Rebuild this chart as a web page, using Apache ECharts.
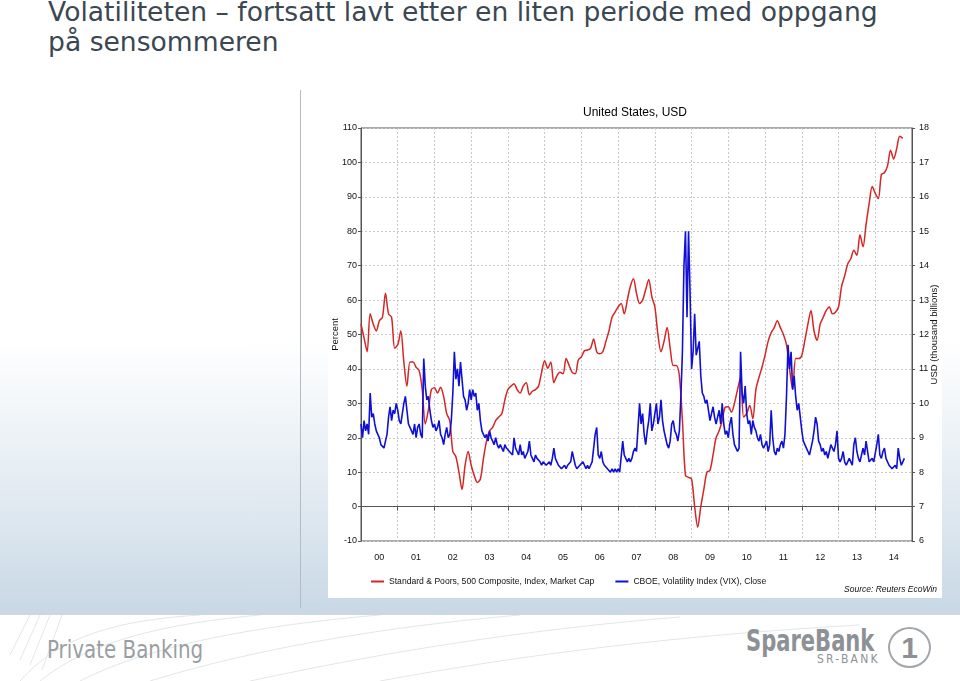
<!DOCTYPE html>
<html><head><meta charset="utf-8">
<script src="https://cdn.jsdelivr.net/npm/echarts@6/dist/echarts.min.js"></script>
<style>
html,body{margin:0;padding:0;}
body{width:960px;height:681px;position:relative;overflow:hidden;background:linear-gradient(to bottom,#ffffff 0px,#ffffff 340px,#dde7ef 520px,#c8d8e5 612px);font-family:"DejaVu Sans",sans-serif;}
#title{position:absolute;left:48px;top:-3px;font-size:26.6px;line-height:30px;color:#3b4752;white-space:nowrap;}
#vline{position:absolute;left:300px;top:90px;width:1px;height:518px;background:#b4bbc2;}
#chart{position:absolute;left:328px;top:90px;width:614px;height:508px;background:#fff;}
#footer{position:absolute;left:0;top:615px;width:960px;height:66px;background:#fff;}
.cond{font-family:"DejaVu Sans Condensed","DejaVu Sans",sans-serif;transform-origin:0 0;white-space:nowrap;}
#pb{position:absolute;left:47px;top:21px;font-size:24px;color:#9a9ea3;transform:scaleX(0.92);}
#sb{position:absolute;left:746px;top:8px;font-size:30px;font-weight:bold;color:#8d9196;transform:scaleX(0.78);}
#sr{position:absolute;left:817px;top:37px;font-size:12px;letter-spacing:2.2px;color:#8d9196;}
#one{position:absolute;left:888px;top:12px;width:39px;height:37px;border:2px solid #a3a7ab;border-radius:50%;text-align:center;font-family:"Liberation Sans",sans-serif;font-weight:bold;font-size:30px;line-height:37px;color:#8d9196;}
</style>
</head><body>
<div id="title">Volatiliteten – fortsatt lavt etter en liten periode med oppgang<br>på sensommeren</div>
<div id="vline"></div>
<div id="chart"></div>
<div id="footer">
<svg width="960" height="66" style="position:absolute;left:0;top:0">
<g fill="none" stroke="#e4e6e8" stroke-width="1">
<path d="M20 66 C 60 20, 120 5, 200 0"/><path d="M40 66 C 90 25, 170 8, 260 0"/><path d="M80 66 C 150 30, 260 10, 380 0"/>
<path d="M150 66 C 250 35, 380 12, 520 0"/><path d="M250 66 C 380 38, 520 15, 680 2"/><path d="M380 66 C 520 40, 680 20, 860 10"/>
<path d="M10 40 L 30 0"/><path d="M20 45 L 40 0"/><path d="M30 50 L 50 0"/><path d="M42 55 L 62 0"/>
</g></svg>
<div id="pb" class="cond">Private Banking</div>
<div id="sb" class="cond">SpareBank</div>
<div id="sr" class="cond">SR-BANK</div>
<div id="one">1</div>
</div>
<script>
// ---- data ----
const yearLabels = ['00','01','02','03','04','05','06','07','08','09','10','11','12','13','14'];
const spStartYear = 2000; // monthly from Jan 2000
// S&P 500 market cap, thousand billions USD (monthly)
const spCap = [
12.30,11.90,11.50,12.60,12.30,12.10,12.40,12.50,13.20,12.60,12.50,11.60,
11.70,12.10,11.20,10.50,11.20,11.20,11.05,10.95,10.40,9.40,9.80,10.40,
10.45,10.30,10.47,10.20,9.70,9.50,8.60,8.45,8.00,7.50,8.20,8.60,
8.20,7.90,7.70,7.80,8.40,8.90,9.20,9.30,9.50,9.60,9.70,10.10,
10.40,10.50,10.57,10.40,10.30,10.50,10.60,10.25,10.35,10.40,10.50,10.90,
11.24,11.02,11.20,10.60,10.80,10.90,10.86,11.30,11.10,10.90,10.86,11.26,
11.35,11.53,11.55,11.60,11.87,11.50,11.44,11.50,11.80,12.10,12.50,12.65,
12.80,12.90,12.60,13.00,13.40,13.62,13.20,12.90,13.00,13.30,13.60,13.10,
12.80,12.00,11.50,11.80,12.20,11.60,11.10,11.10,10.80,9.50,7.90,7.85,
7.80,7.00,6.40,7.00,7.50,8.00,8.05,8.50,9.00,9.20,9.50,9.89,
9.90,9.74,10.00,10.40,10.76,9.60,9.70,9.94,9.55,10.40,10.75,11.05,
11.40,11.80,12.05,12.20,12.40,12.20,12.00,11.70,11.00,10.40,11.30,11.30,
11.40,11.83,12.30,12.70,12.10,11.83,12.30,12.50,12.70,12.80,12.60,12.65,
12.80,13.40,13.70,14.05,14.20,14.45,14.30,14.90,14.55,15.20,15.80,16.30,
16.10,15.95,16.65,16.70,16.90,17.35,17.10,17.40,17.76,17.70
];
const vixStartYear = 2000; // two readings per month from Jan 2000
// CBOE VIX close, percent (half-monthly)
const vix = [
24,20,25,22,24,21,33,26,27,24,22,21,20,18,18,17,19,21,26,29,25,28,27,30,
28,25,24,27,30,32,28,24,23,22,21,24,20,23,24,21,20,43,35,31,32,28,25,23,
24,22,23,25,21,20,18,21,23,20,21,25,33,45,37,40,35,42,37,32,31,28,30,34,
31,34,32,33,28,30,25,22,21,20,21,19,22,20,19,18,20,18,17,18,17,16,18,17,
17,16,16,15,20,17,16,15,18,15,16,14,15,16,19,15,14,13,15,14,14,13,12,13,
13,12,12,13,12,14,17,14,13,12,12,11,11,12,11,12,12,13,16,14,12,11,11,12,
12,13,12,11,12,11,12,13,17,21,23,15,14,16,13,12,12,11,11,10,11,10,11,10,
11,10,10,19,15,14,13,14,13,14,16,17,16,23,30,24,27,21,18,22,25,30,22,24,
27,30,24,26,31,25,22,20,18,17,19,24,25,22,21,19,22,32,45,70,80,55,80,62,
40,45,56,44,46,48,38,33,32,30,31,28,25,27,29,26,24,26,28,24,30,24,21,22,
20,24,26,21,18,17,16,17,45,33,30,35,27,24,25,21,25,23,22,20,19,21,18,17,
17,19,16,18,28,20,16,15,17,16,18,19,17,21,32,47,40,45,34,38,32,28,30,26,
22,19,18,17,16,15,17,19,22,26,24,19,18,16,17,15,16,14,16,18,17,16,18,22,
14,13,14,16,13,12,13,14,13,12,18,20,16,14,13,15,17,15,19,16,13,13,14,13,
13,18,21,15,14,16,17,14,14,12,12,11,11,12,11,17,14,12,13,14
];
const spName = 'Standard & Poors, 500 Composite, Index, Market Cap';
const vixName = 'CBOE, Volatility Index (VIX), Close';

// ---- chart ----
const FONT = '"Liberation Sans", Arial, sans-serif';
const spData = spCap.map((v, i) => [spStartYear + i / 12, v]);
const vixData = vix.map((v, i) => [vixStartYear + i / 24, v]);
const chart = echarts.init(document.getElementById('chart'));
const gridLine = {show: true, lineStyle: {color: '#c9c9c9', type: [2, 2], width: 1}};
chart.setOption({
  animation: false,
  backgroundColor: '#fff',
  textStyle: {fontFamily: FONT},
  title: {text: 'United States, USD', left: 'center', top: 12,
    textStyle: {fontSize: 12, fontWeight: 'normal', color: '#000', fontFamily: FONT}},
  grid: {left: 33, right: 30, top: 38, bottom: 57, show: true, borderColor: '#555', borderWidth: 1,
    containLabel: false, outerBoundsMode: 'none'},
  legend: {left: 38, top: 482, icon: 'rect', itemWidth: 13, itemHeight: 2, itemGap: 21,
    textStyle: {fontSize: 8.6, color: '#111', fontFamily: FONT}, data: [spName, vixName]},
  graphic: [{type: 'text', right: 5, top: 495,
    style: {text: 'Source: Reuters EcoWin', fontSize: 8.5, fontStyle: 'italic', fontFamily: FONT, fill: '#111'}}],
  xAxis: [
    {type: 'value', min: 2000, max: 2015, interval: 1, position: 'bottom',
     axisLine: {show: true, lineStyle: {color: '#555'}},
     axisTick: {show: true, length: 4, lineStyle: {color: '#555'}},
     axisLabel: {show: false}, splitLine: gridLine},
    {type: 'category', data: yearLabels, position: 'bottom', boundaryGap: true,
     axisLine: {show: false}, axisTick: {show: false}, splitLine: {show: false},
     axisLabel: {fontSize: 9, color: '#111', margin: 12, fontFamily: FONT}}
  ],
  yAxis: [
    {type: 'value', min: -10, max: 110, interval: 10, position: 'left',
     name: 'Percent', nameLocation: 'middle', nameRotate: 90, nameGap: 21, nameMoveOverlap: false,
     nameTextStyle: {fontSize: 9.5, color: '#111', fontFamily: FONT},
     axisLine: {show: true, lineStyle: {color: '#555'}},
     axisTick: {show: true, length: 3, lineStyle: {color: '#555'}},
     axisLabel: {fontSize: 9, color: '#111', margin: 4, fontFamily: FONT},
     splitLine: gridLine},
    {type: 'value', min: 6, max: 18, interval: 1, position: 'right',
     name: 'USD (thousand billions)', nameLocation: 'middle', nameRotate: 90, nameGap: 17, nameMoveOverlap: false,
     nameTextStyle: {fontSize: 9.5, color: '#111', fontFamily: FONT},
     axisLine: {show: true, lineStyle: {color: '#555'}},
     axisTick: {show: true, length: 3, lineStyle: {color: '#555'}},
     axisLabel: {fontSize: 9, color: '#111', margin: 7, fontFamily: FONT},
     splitLine: {show: false}}
  ],
  series: [
    {name: spName, type: 'line', xAxisIndex: 0, yAxisIndex: 1, data: spData,
     showSymbol: false, smooth: 0.3, color: '#d42626', lineStyle: {width: 1.5, color: '#d42626'}},
    {name: vixName, type: 'line', xAxisIndex: 0, yAxisIndex: 0, data: vixData,
     showSymbol: false, color: '#1010d4', lineStyle: {width: 1.6, color: '#1010d4'}}
  ]
});
</script>
</body></html>
